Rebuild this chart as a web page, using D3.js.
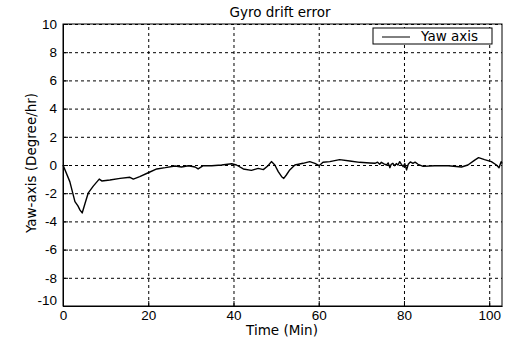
<!DOCTYPE html>
<html>
<head>
<meta charset="utf-8">
<script src="https://cdn.jsdelivr.net/npm/d3@7"></script>
<style>
  body { margin: 0; background: #fff; }
  text { font-family: "DejaVu Sans", sans-serif; fill: #000; }
</style>
</head>
<body>
<div class="canvas"></div>
<script>
// data
const time = [0, 1.6, 2.8, 3.5, 4.0, 4.5, 5.2, 5.9, 7.1, 8.5, 9.1, 11, 13.4, 15.7, 16.5, 18, 20, 22, 24,
    26.3, 27.8, 29.4, 31, 31.7, 32.9, 34.9, 37.2, 39.6, 40.7, 42.3, 44.2, 45.8, 47, 48.1, 48.9,
    49.7, 50.5, 51.3, 51.8, 52.4, 53.2, 54.4, 56.3, 57.9, 59.1, 60.1, 61, 62.6, 64.9, 67.3, 69.6,
    72, 73.2, 73.8, 74.3, 74.7, 75.3, 75.9, 76.3, 76.7, 77.0, 77.4, 77.8, 78.2, 78.6, 79, 79.4,
    79.8, 80.2, 80.6, 81, 81.5, 82.1, 82.6, 83.3, 84.5, 87.2, 90.4,
    93.5, 95, 96.6, 97.5, 98.9, 100.5, 101.7, 102.3, 102.8, 103];
const yaw = [0, -1.18, -2.6, -2.9, -3.2, -3.4, -2.7, -2.0, -1.5, -1.0, -1.13, -1.06, -0.95, -0.87, -1.0, -0.83, -0.55, -0.28, -0.19,
    -0.07, -0.14, -0.05, -0.14, -0.28, -0.05, -0.05, 0, 0.09, 0, -0.28, -0.38, -0.24, -0.33, -0.05, 0.24,
    0, -0.47, -0.83, -0.95, -0.71, -0.35, 0, 0.12, 0.24, 0.12, -0.05, 0.19, 0.24, 0.38, 0.28, 0.19,
    0.14, 0.12, 0.2, 0.05, 0.19, 0.08, 0, 0.15, -0.19, 0.05, 0.12, -0.05, 0.1, 0, 0.24, 0.05,
    -0.12, 0.1, -0.35, 0.05, 0.22, 0.12, 0.2, 0.05, -0.1, -0.05, -0.05,
    -0.14, 0, 0.35, 0.52, 0.38, 0.24, 0, -0.19, 0.24, 0.1];
const xTicks = [0, 20, 40, 60, 80, 100];
const yTicks = [-10, -8, -6, -4, -2, 0, 2, 4, 6, 8, 10];

const data = time.map((t, i) => ({ t: t, v: yaw[i] }));

const svg = d3.select('.canvas')
    .append('svg')
    .attr('width', 507)
    .attr('height', 344);

const margin = { top: 24, right: 5, left: 63, bottom: 38 };
const graphWidth = 507 - margin.left - margin.right;
const graphHeight = 344 - margin.top - margin.bottom;

const graph = svg.append('g')
    .attr('transform', `translate(${margin.left}, ${margin.top})`);

const x = d3.scaleLinear().domain([0, 103]).range([0, graphWidth]);
const y = d3.scaleLinear().domain([-10, 10]).range([graphHeight, 0]);

// dashed grid
graph.append('g')
    .attr('class', 'grid')
    .attr('transform', `translate(0, ${graphHeight})`)
    .call(d3.axisBottom(x).tickValues(xTicks).tickSize(-graphHeight).tickFormat(''));
graph.append('g')
    .attr('class', 'grid')
    .call(d3.axisLeft(y).tickValues(yTicks).tickSize(-graphWidth).tickFormat(''));
graph.selectAll('.grid .domain').remove();
graph.selectAll('.grid line')
    .attr('stroke', '#000')
    .attr('stroke-dasharray', '3,3');

// box
graph.append('rect')
    .attr('width', graphWidth)
    .attr('height', graphHeight)
    .attr('fill', 'none')
    .attr('stroke', '#000');

// axes with inward ticks, plain hyphen minus like the original
const plain = d => String(d);
const xAxisGroup = graph.append('g')
    .attr('transform', `translate(0, ${graphHeight})`)
    .call(d3.axisBottom(x).tickValues(xTicks).tickFormat(plain).tickSizeInner(-5).tickSizeOuter(0).tickPadding(4));
const yAxisGroup = graph.append('g')
    .call(d3.axisLeft(y).tickValues(yTicks).tickFormat(plain).tickSizeInner(-5).tickSizeOuter(0).tickPadding(6));

[xAxisGroup, yAxisGroup].forEach(g => {
    g.select('.domain').attr('stroke', '#000');
    g.selectAll('text')
        .style('font-family', '"Liberation Sans", Arial, sans-serif')
        .style('font-size', '13.5px')
        .attr('fill', '#000');
});
yAxisGroup.selectAll('.tick').filter(d => d === -10).select('text').attr('dy', '-0.1em');

// the curve
const line = d3.line()
    .x(d => x(d.t))
    .y(d => y(d.v));

graph.append('path')
    .datum(data)
    .attr('fill', 'none')
    .attr('stroke', '#000')
    .attr('stroke-width', 1.4)
    .attr('stroke-linejoin', 'round')
    .attr('d', line);

// legend
const legend = svg.append('g')
    .attr('transform', 'translate(373, 28)');
legend.append('rect')
    .attr('width', 119)
    .attr('height', 16)
    .attr('fill', '#fff')
    .attr('stroke', '#000');
legend.append('line')
    .attr('x1', 9).attr('x2', 37)
    .attr('y1', 9).attr('y2', 9)
    .attr('stroke', '#000');
legend.append('text')
    .attr('x', 48)
    .attr('y', 13)
    .style('font-size', '13.5px')
    .text('Yaw axis');

// titles
svg.append('text')
    .attr('x', 280)
    .attr('y', 17)
    .attr('text-anchor', 'middle')
    .style('font-size', '13.5px')
    .text('Gyro drift error');

svg.append('text')
    .attr('x', 282)
    .attr('y', 335)
    .attr('text-anchor', 'middle')
    .style('font-size', '13.5px')
    .text('Time (Min)');

svg.append('text')
    .attr('transform', 'translate(36, 163) rotate(-90)')
    .attr('text-anchor', 'middle')
    .style('font-size', '13.5px')
    .text('Yaw-axis (Degree/hr)');
</script>
</body>
</html>
